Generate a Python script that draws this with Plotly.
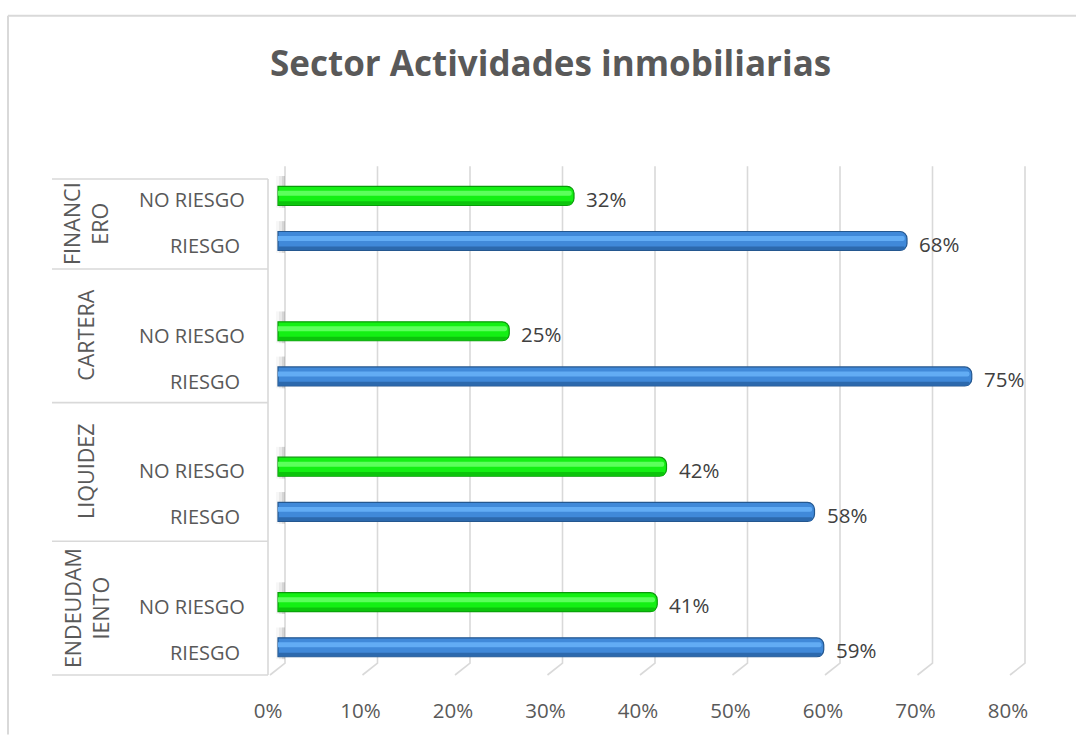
import plotly.graph_objects as go

# ---- data ----
groups = ["ENDEUDAMIENTO", "LIQUIDEZ", "CARTERA", "FINANCIERO"]          # bottom -> top
group_labels = ["ENDEUDAM<br>IENTO", "LIQUIDEZ", "CARTERA", "FINANCI<br>ERO"]
series_names = ["RIESGO", "NO RIESGO"]
riesgo = [59, 58, 75, 68]
no_riesgo = [41, 42, 25, 32]
x_ticks = [0, 10, 20, 30, 40, 50, 60, 70, 80]
title_text = "Sector Actividades inmobiliarias"

# ---- layout geometry ----
W, H = 1076, 736
ML, MR, MT, MB = 268, 44, 179, 56
PLOT_W = W - ML - MR
PLOT_H = H - MT - MB
X0PX, PXU = 278.0, 9.25              # pixel of 0% and px per percent
x_range = [(ML - X0PX) / PXU, (W - MR - X0PX) / PXU]
y_range = [-0.614, -0.614 + PLOT_H / 45.6]
group_bounds = [-0.614, 2.35, 5.42, 8.38, y_range[1]]

def xp(px):
    return (px - ML) / PLOT_W

def yp(py):
    return (H - MB - py) / PLOT_H

def ydata_to_paper(v):
    return (v - y_range[0]) / (y_range[1] - y_range[0])

pos_r = [3 * i for i in range(len(groups))]
pos_nr = [3 * i + 1 for i in range(len(groups))]

GRID = "#d9d9d9"
TXT = "#595959"
FONT = "Open Sans"

fig = go.Figure()

# main bars
fig.add_trace(go.Bar(orientation="h", x=riesgo, y=pos_r, width=0.42, name=series_names[0],
                     marker=dict(color="#4089d9", line=dict(color="#24578f", width=1.2), cornerradius=7),
                     hoverinfo="skip"))
fig.add_trace(go.Bar(orientation="h", x=no_riesgo, y=pos_nr, width=0.42, name=series_names[1],
                     marker=dict(color="#14f014", line=dict(color="#0a9a0a", width=1.2), cornerradius=7),
                     hoverinfo="skip"))
# highlight / shade bands (cylinder look)
fig.add_trace(go.Bar(orientation="h", x=[v - 0.25 for v in riesgo], y=pos_r, width=0.11, offset=0.0,
                     marker=dict(color="#62acf4", line=dict(width=0), cornerradius=3),
                     hoverinfo="skip", showlegend=False))
fig.add_trace(go.Bar(orientation="h", x=[v - 0.25 for v in no_riesgo], y=pos_nr, width=0.11, offset=0.0,
                     marker=dict(color="#5cff5c", line=dict(width=0), cornerradius=3),
                     hoverinfo="skip", showlegend=False))
fig.add_trace(go.Bar(orientation="h", x=[v - 0.25 for v in riesgo], y=pos_r, width=0.08, offset=-0.2,
                     marker=dict(color="#2c69ad", line=dict(width=0), cornerradius=3),
                     hoverinfo="skip", showlegend=False))
fig.add_trace(go.Bar(orientation="h", x=[v - 0.25 for v in no_riesgo], y=pos_nr, width=0.08, offset=-0.2,
                     marker=dict(color="#0cc40c", line=dict(width=0), cornerradius=3),
                     hoverinfo="skip", showlegend=False))

shapes = []
# 3D-style gridlines: back wall vertical + slanted floor segment
for t in x_ticks:
    xb = t + 7.0 / PXU
    xf = t - 8.0 / PXU
    shapes.append(dict(type="path", xref="x", yref="paper",
                       path=f"M {xb},{yp(166)} L {xb},{yp(668)} L {xf},{yp(680)}",
                       line=dict(color=GRID, width=1.6), layer="below"))
# left-wall shadow hints next to each bar (soft gradient imitation)
for p in pos_r + pos_nr:
    yc = ydata_to_paper(p)
    for k, a in enumerate((0.06, 0.10, 0.16)):
        shapes.append(dict(type="rect", xref="paper", yref="paper",
                           x0=xp(276 + 3 * k), x1=xp(285), y0=yc - 12 / PLOT_H, y1=yc + 20 / PLOT_H,
                           fillcolor=f"rgba(120,120,120,{a})", line=dict(width=0), layer="below"))

# category table lines
for b in group_bounds:
    yy = ydata_to_paper(b)
    shapes.append(dict(type="line", xref="paper", yref="paper", x0=xp(52), x1=xp(268), y0=yy, y1=yy,
                       line=dict(color=GRID, width=1.6)))
shapes.append(dict(type="line", xref="paper", yref="paper", x0=xp(268), x1=xp(268),
                   y0=ydata_to_paper(group_bounds[0]), y1=ydata_to_paper(group_bounds[-1]),
                   line=dict(color=GRID, width=1.6)))
# chart outer border
shapes.append(dict(type="line", xref="paper", yref="paper", x0=xp(8), x1=xp(1080), y0=yp(14), y1=yp(14),
                   line=dict(color=GRID, width=2)))
shapes.append(dict(type="line", xref="paper", yref="paper", x0=xp(8), x1=xp(8), y0=yp(14), y1=yp(740),
                   line=dict(color=GRID, width=2)))

annotations = []
# data labels
for vals, poss in ((riesgo, pos_r), (no_riesgo, pos_nr)):
    for v, p in zip(vals, poss):
        annotations.append(dict(x=v, y=p, xref="x", yref="y", text=f"{v}%", showarrow=False,
                                xanchor="left", xshift=10, yshift=-3,
                                font=dict(family=FONT, size=20.5, color="#404040")))
# inner category labels
for i in range(len(groups)):
    annotations.append(dict(x=xp(247), y=pos_nr[i], xref="paper", yref="y", text=series_names[1],
                            showarrow=False, xanchor="right", yshift=-4,
                            font=dict(family=FONT, size=20, color=TXT)))
    annotations.append(dict(x=xp(242), y=pos_r[i], xref="paper", yref="y", text=series_names[0],
                            showarrow=False, xanchor="right", yshift=-5,
                            font=dict(family=FONT, size=20, color=TXT)))
    yc = (group_bounds[i] + group_bounds[i + 1]) / 2
    annotations.append(dict(x=xp(86), y=ydata_to_paper(yc), xref="paper", yref="paper", text=group_labels[i],
                            showarrow=False, textangle=-90, xanchor="center", yanchor="middle",
                            font=dict(family=FONT, size=21.5, color=TXT)))
# title
annotations.append(dict(x=xp(550), y=yp(61), xref="paper", yref="paper", text=f"<b>{title_text}</b>",
                        showarrow=False, xanchor="center", yanchor="middle",
                        font=dict(family=FONT, size=35, color=TXT)))

fig.update_layout(
    width=W, height=H, margin=dict(l=ML, r=MR, t=MT, b=MB),
    paper_bgcolor="white", plot_bgcolor="white",
    barmode="overlay", showlegend=False,
    xaxis=dict(range=x_range, tickvals=x_ticks, ticktext=[f"{t}%" for t in x_ticks],
               showgrid=False, zeroline=False, showline=False,
               ticks="outside", ticklen=17, tickcolor="rgba(0,0,0,0)", ticklabelshift=-10,
               tickfont=dict(family=FONT, size=20.5, color=TXT), fixedrange=True),
    yaxis=dict(range=y_range, showgrid=False, zeroline=False, showline=False,
               showticklabels=False, ticks="", fixedrange=True),
    shapes=shapes, annotations=annotations,
)

fig.write_html("out.html", config={"displayModeBar": False},
               post_script="document.body.style.margin='0';document.body.style.overflow='hidden';")
